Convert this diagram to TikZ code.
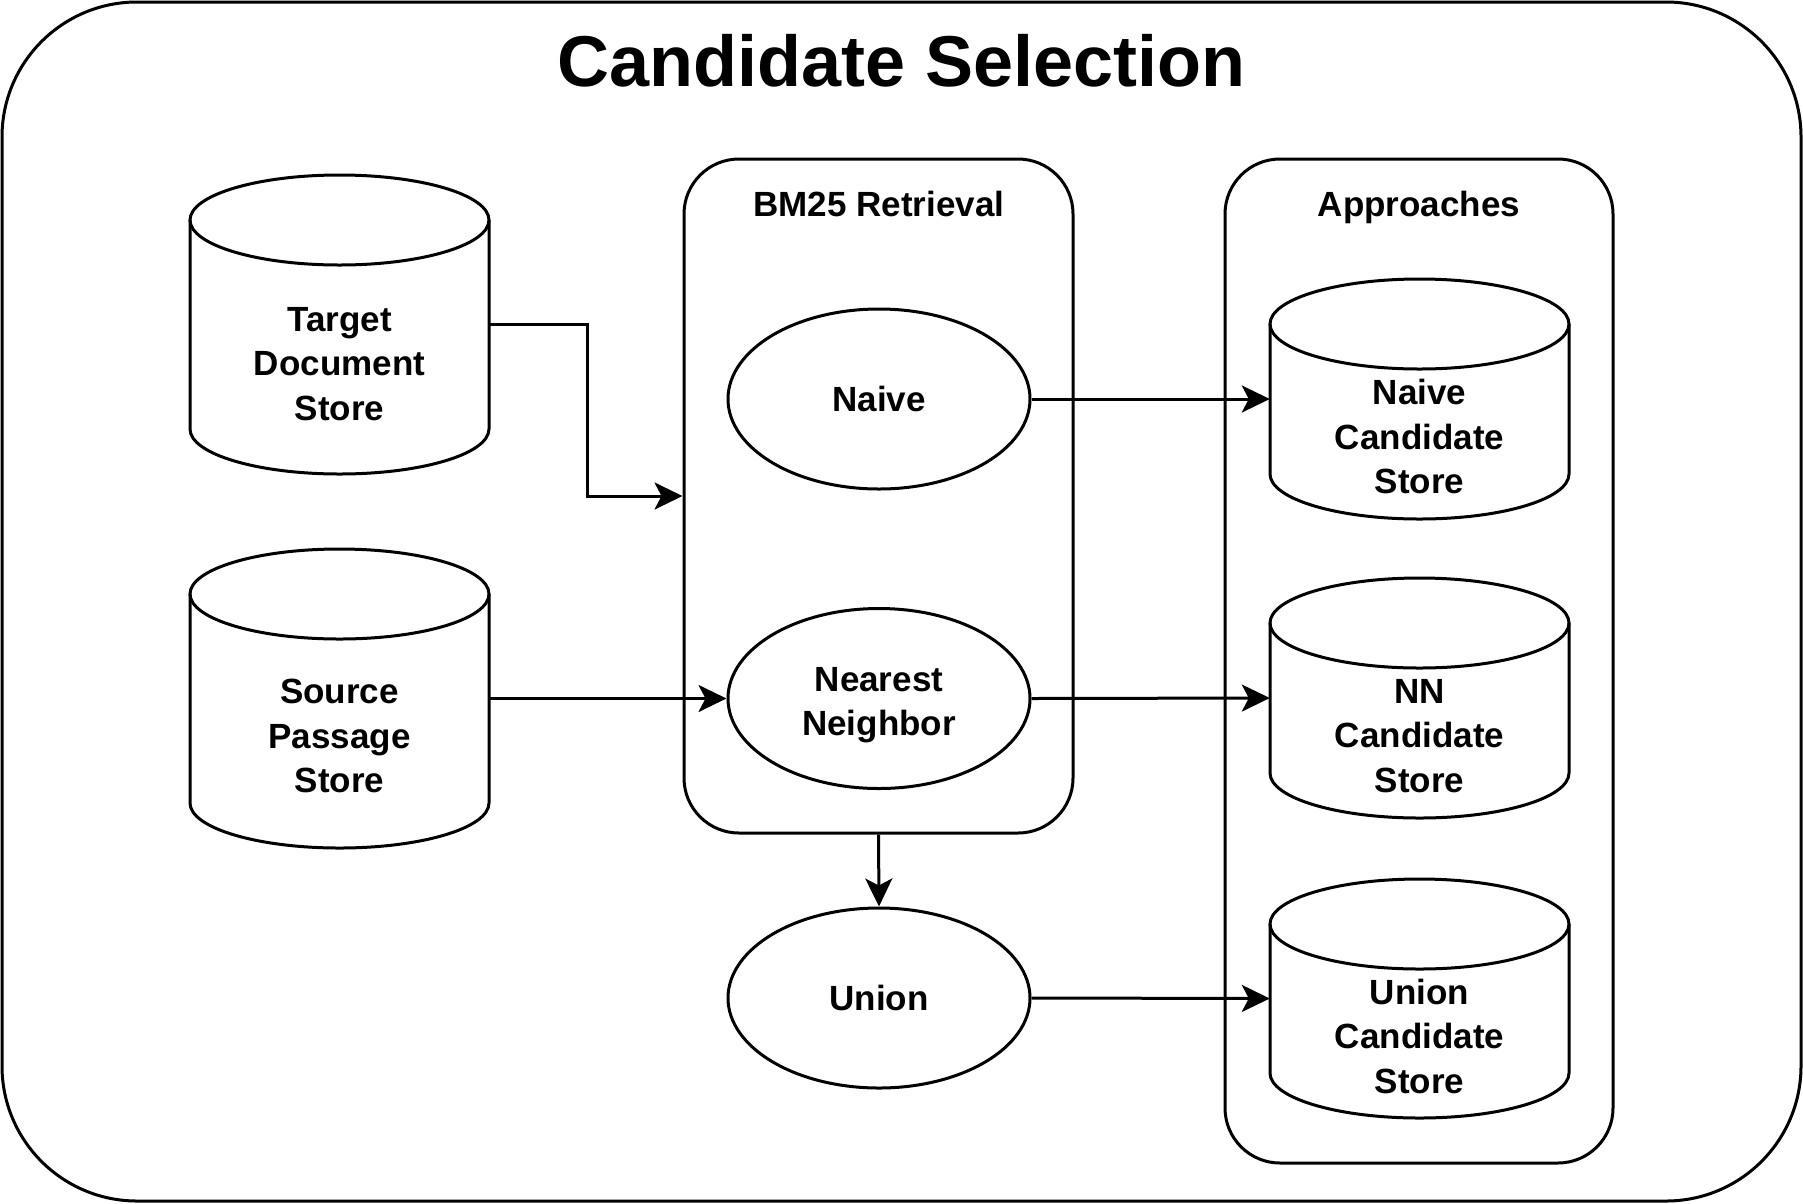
\documentclass[tikz,border=0pt]{standalone}
\usepackage{fontspec}
\setmainfont{Liberation Sans}
\usetikzlibrary{arrows.meta,shapes.geometric}
\newcommand\lblfont{\fontsize{35}{44.5}\selectfont\bfseries}
\newcommand\dbdraw[4]{%
  \draw[lw,fill=white] (#1,#2+45) -- (#1,#4-45) arc[start angle=180,end angle=0,x radius={(#3-#1)/2},y radius=45] -- (#3,#2+45);
  \draw[lw] ({(#1+#3)/2},#2+45) ellipse[x radius={(#3-#1)/2},y radius=45];}
\begin{document}
\begin{tikzpicture}[x=1pt,y=-1pt,
  lw/.style={line width=3pt},
  box/.style={lw, draw, rectangle, inner sep=0pt},
  oval/.style={lw, draw, fill=white, ellipse, minimum width=302pt, minimum height=180pt, inner sep=0pt, align=center, font=\lblfont},
  cylarea/.style={rectangle, inner sep=0pt},
  lbl/.style={align=center, inner sep=0pt, font=\lblfont},
  ttl/.style={anchor=base, inner sep=0pt, font=\lblfont},
  arr/.style={lw, -{Stealth[length=28pt,width=27pt,inset=7pt]}}]
\useasboundingbox (0,0) rectangle (1803,1203);
% outer frame
\node[box, rounded corners=135pt, minimum width=1799pt, minimum height=1199pt] (frame) at (901.5,601.5) {};
\node[anchor=base, inner sep=0pt, font=\fontsize{72}{86}\selectfont\bfseries] (title) at (901.5,86) {Candidate Selection};
% containers
\node[box, rounded corners=55pt, minimum width=389pt, minimum height=674pt] (bm25) at (878.5,496) {};
\node[ttl] (bm25t) at (879,216) {BM25 Retrieval};
\node[box, rounded corners=55pt, minimum width=388pt, minimum height=1004pt] (appr) at (1419,661) {};
\node[ttl] (apprt) at (1419,216) {Approaches};
% cylinders (stores)
\dbdraw{190}{175}{489}{474}
\node[cylarea, minimum width=299pt, minimum height=299pt] (tgt) at (339.5,324.5) {};
\node[lbl] (tgtl) at (339.5,364) {Target\\Document\\Store};
\dbdraw{190}{549}{489}{848}
\node[cylarea, minimum width=299pt, minimum height=299pt] (src) at (339.5,698.5) {};
\node[lbl] (srcl) at (339.5,736) {Source\\Passage\\Store};
\dbdraw{1270}{279}{1569}{519}
\node[cylarea, minimum width=299pt, minimum height=240pt] (ns) at (1419.5,399) {};
\node[lbl] (nsl) at (1419.5,436.5) {Naive\\Candidate\\Store};
\dbdraw{1270}{578}{1569}{818}
\node[cylarea, minimum width=299pt, minimum height=240pt] (nns) at (1419.5,698) {};
\node[lbl] (nnsl) at (1419.5,736) {NN\\Candidate\\Store};
\dbdraw{1270}{879}{1569}{1118}
\node[cylarea, minimum width=299pt, minimum height=239pt] (us) at (1419.5,998.5) {};
\node[lbl] (usl) at (1419.5,1036) {Union\\Candidate\\Store};
% ellipses
\node[oval] (naive) at (879,399) {Naive};
\node[oval] (nn) at (879,698.5) {\rule{0pt}{37pt}Nearest\\Neighbor};
\node[oval] (union) at (879,998) {Union};
% connectors
\draw[arr] (tgt.east) -- ++(98,0) |- (bm25.west);
\draw[arr] (src.east) -- (nn.west);
\draw[arr] (naive.east) -- (ns.west);
\draw[arr] (nn.east) -- (nns.west);
\draw[arr] (bm25.south) -- (union.north);
\draw[arr] (union.east) -- (us.west);
\end{tikzpicture}
\end{document}
